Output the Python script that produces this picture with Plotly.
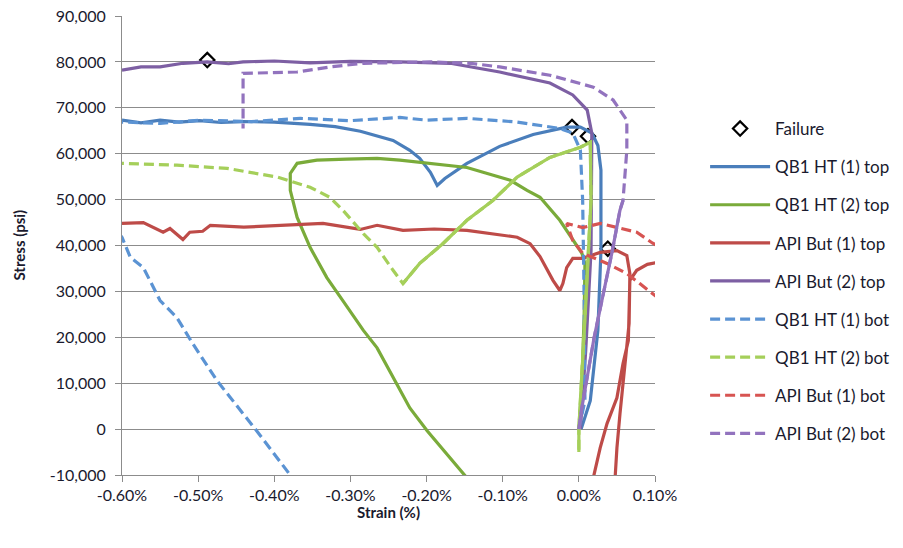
import plotly.graph_objects as go

# Strain in percent, stress in psi
FONT = "Lato"

x_ticks = [-0.6, -0.5, -0.4, -0.3, -0.2, -0.1, 0.0, 0.1]
x_tick_text = ["-0.60%", "-0.50%", "-0.40%", "-0.30%", "-0.20%", "-0.10%", "0.00%", "0.10%"]
y_ticks = [-10000, 0, 10000, 20000, 30000, 40000, 50000, 60000, 70000, 80000, 90000]
y_tick_text = ["-10,000", "0", "10,000", "20,000", "30,000", "40,000",
               "50,000", "60,000", "70,000", "80,000", "90,000"]

failure_strain = [-0.488, -0.009, 0.012, 0.038]
failure_stress = [80400, 65800, 63800, 39300]

qb1_1_top_strain = [-0.600, -0.575, -0.550, -0.525, -0.498, -0.470, -0.441, -0.400, -0.353, -0.320,
                    -0.287, -0.244, -0.222, -0.209, -0.195, -0.186, -0.176, -0.147, -0.104, -0.060,
                    -0.016, 0.002, 0.017, 0.025, 0.029, 0.029, 0.025, 0.015, 0.003]
qb1_1_top_stress = [67300, 66700, 67300, 66900, 67200, 66800, 67000, 66900, 66400, 65900,
                    64900, 62900, 60750, 59000, 55950, 53100, 54600, 57900, 61600, 64200,
                    65800, 65800, 64500, 61800, 56400, 38900, 21500, 6200, 0]

qb1_2_top_strain = [0.000, 0.004, 0.007, 0.008, 0.004, -0.025, -0.051, -0.068, -0.090, -0.147,
                    -0.235, -0.265, -0.305, -0.344, -0.370, -0.379, -0.379, -0.370, -0.353, -0.331,
                    -0.310, -0.283, -0.265, -0.244, -0.222, -0.199, -0.147, -0.140]
qb1_2_top_stress = [0, 10000, 25000, 36000, 38300, 45500, 50500, 52000, 54200, 57000,
                    58600, 59000, 58800, 58600, 57900, 55700, 52000, 46100, 39600, 33000,
                    28000, 21500, 17700, 11200, 4600, -400, -10600, -12000]

api_1_top_strain = [-0.600, -0.572, -0.546, -0.537, -0.520, -0.511, -0.494, -0.484, -0.440, -0.396,
                    -0.336, -0.287, -0.265, -0.231, -0.190, -0.147, -0.113, -0.081, -0.064, -0.051,
                    -0.034, -0.025, -0.021, -0.016, -0.008, 0.005, 0.028, 0.050, 0.063, 0.067,
                    0.066, 0.058, 0.054, 0.050, 0.047, 0.046, 0.016, 0.019, 0.028, 0.037,
                    0.050, 0.058, 0.065, 0.067, 0.067, 0.076, 0.090, 0.103, 0.120]
api_1_top_stress = [44800, 45000, 42900, 43700, 41300, 42900, 43100, 44400, 44000, 44400,
                    44800, 43500, 44400, 43300, 43600, 43300, 42600, 41800, 40400, 37600,
                    32400, 30200, 31700, 35200, 37200, 37200, 38500, 38900, 37800, 33900,
                    23000, 10500, 3300, -4100, -10600, -15000, -15000, -10600, -4100, 1200,
                    6800, 14300, 19300, 28000, 32400, 34600, 35900, 36300, 36000]

api_2_top_strain = [-0.600, -0.575, -0.550, -0.520, -0.488, -0.460, -0.441, -0.400, -0.353, -0.300,
                    -0.235, -0.169, -0.104, -0.038, -0.008, 0.011, 0.017, 0.016, 0.009, 0.002]
api_2_top_stress = [78200, 78900, 78900, 79700, 80000, 79600, 80000, 80200, 79800, 80100,
                    80000, 79700, 77800, 75400, 72800, 69500, 64500, 38900, 17100, 0]

qb1_1_bot_strain = [0.000, 0.008, 0.007, 0.005, 0.002, -0.008, -0.025, -0.081, -0.147, -0.200,
                    -0.235, -0.300, -0.366, -0.430, -0.498, -0.550, -0.600, -0.660, -0.630, -0.600,
                    -0.589, -0.572, -0.550, -0.528, -0.507, -0.475, -0.423, -0.379, -0.370]
qb1_1_bot_stress = [0, 6200, 28000, 49800, 60800, 64500, 65500, 66900, 67700, 67300,
                    67900, 67200, 67700, 67000, 67300, 66600, 66900, 66000, 48000, 41800,
                    37400, 35200, 28000, 24300, 18600, 10500, -400, -10200, -12000]

qb1_2_bot_strain = [-0.650, -0.600, -0.528, -0.462, -0.396, -0.353, -0.327, -0.310, -0.283, -0.265,
                    -0.244, -0.231, -0.209, -0.178, -0.147, -0.113, -0.081, -0.038, 0.002, 0.015,
                    0.016, 0.010, 0.003, 0.000, 0.000]
qb1_2_bot_stress = [58000, 57900, 57500, 56800, 54900, 52700, 50500, 47700, 42600, 39600,
                    34600, 31700, 36100, 40500, 45500, 49800, 54900, 59200, 61400, 62500,
                    50000, 30000, 10000, 0, -5000]

api_1_bot_strain = [0.120, 0.097, 0.076, 0.050, 0.028, 0.005, -0.016, -0.008, 0.005, 0.037,
                    0.063, 0.080, 0.103, 0.120]
api_1_bot_stress = [38500, 40500, 42900, 43900, 44800, 43900, 44800, 41100, 38300, 36100,
                    33900, 31700, 28700, 26000]

api_2_bot_strain = [0.000, 0.004, 0.020, 0.044, 0.054, 0.058, 0.063, 0.063, 0.045, 0.019,
                    -0.038, -0.104, -0.143, -0.195, -0.283, -0.327, -0.370, -0.438, -0.441, -0.441]
api_2_bot_stress = [0, 4700, 19900, 38900, 47700, 49800, 60800, 67300, 71700, 74500,
                    77100, 78900, 79700, 80000, 79700, 78900, 77800, 77600, 77500, 65500]

DASH = "10px,5px"

# (name, strain, stress, colour, dash, densely logged stretch)
# Densely logged stretches render as a continuous stroke, so they are drawn solid.
series = [
    ("QB1 HT (1) top", qb1_1_top_strain, qb1_1_top_stress, "#4A7EBB", "solid", None),
    ("QB1 HT (2) top", qb1_2_top_strain, qb1_2_top_stress, "#7AAB3A", "solid", None),
    ("API But (1) top", api_1_top_strain, api_1_top_stress, "#BE4B48", "solid", None),
    ("API But (2) top", api_2_top_strain, api_2_top_stress, "#7D5FA3", "solid", None),
    ("QB1 HT (1) bot", qb1_1_bot_strain, qb1_1_bot_stress, "#5B93D3", DASH, None),
    ("QB1 HT (2) bot", qb1_2_bot_strain, qb1_2_bot_stress, "#A5CF5A", DASH, ("after", 11)),
    ("API But (1) bot", api_1_bot_strain, api_1_bot_stress, "#D75452", DASH, None),
    ("API But (2) bot", api_2_bot_strain, api_2_bot_stress, "#9273BE", DASH, ("before", 5)),
]

fig = go.Figure()

fig.add_trace(go.Scatter(
    x=failure_strain, y=failure_stress, mode="markers", name="Failure",
    marker=dict(symbol="diamond-open", size=11, color="black", line=dict(width=2.2, color="black")),
    legendgroup="f",
))

for i, (name, xs, ys, color, dash, dense) in enumerate(series):
    fig.add_trace(go.Scatter(
        x=xs, y=ys, mode="lines", name=name, legendgroup=f"s{i}",
        line=dict(color=color, width=3.2, dash=dash),
    ))
    if dense is not None:
        side, k = dense
        sx, sy = (xs[k:], ys[k:]) if side == "after" else (xs[:k + 1], ys[:k + 1])
        fig.add_trace(go.Scatter(
            x=sx, y=sy, mode="lines", name=name, legendgroup=f"s{i}", showlegend=False,
            line=dict(color=color, width=3.2, dash="solid"),
        ))

text_color = "#1A1A2E"
axis_font = dict(family=FONT, size=16, color=text_color)
title_font = dict(family=FONT, size=15, color=text_color)

fig.update_layout(
    width=903, height=548,
    margin=dict(l=122, r=248, t=16, b=73, autoexpand=False),
    paper_bgcolor="white", plot_bgcolor="white",
    font=dict(family=FONT, size=16, color=text_color),
    showlegend=True,
    legend=dict(
        x=1.094, xanchor="left", y=0.793, yanchor="top",
        font=dict(family=FONT, size=17, color=text_color),
        tracegroupgap=13, itemwidth=60, bgcolor="rgba(0,0,0,0)",
    ),
    xaxis=dict(
        range=[-0.6, 0.1], tickvals=x_ticks, ticktext=x_tick_text,
        showgrid=False, zeroline=False, showline=True, linecolor="#8C8C8C", linewidth=1,
        ticks="outside", ticklen=6, tickcolor="#8C8C8C", tickfont=axis_font,
    ),
    yaxis=dict(
        range=[-10000, 90000], tickvals=y_ticks, ticktext=y_tick_text,
        showgrid=True, gridcolor="#8C8C8C", gridwidth=1, zeroline=False,
        showline=True, linecolor="#8C8C8C", linewidth=1,
        ticks="outside", ticklen=6, tickcolor="#8C8C8C", tickfont=axis_font,
        ticklabelstandoff=6,
    ),
    annotations=[
        dict(text="<b>Strain (%)</b>", xref="paper", yref="paper", x=0.5, y=-0.08,
             xanchor="center", yanchor="middle", showarrow=False, font=title_font),
        dict(text="<b>Stress (psi)</b>", xref="paper", yref="paper", x=-0.195, y=0.5,
             xanchor="center", yanchor="middle", showarrow=False, textangle=-90, font=title_font),
    ],
)

fig.write_html("out.html")
